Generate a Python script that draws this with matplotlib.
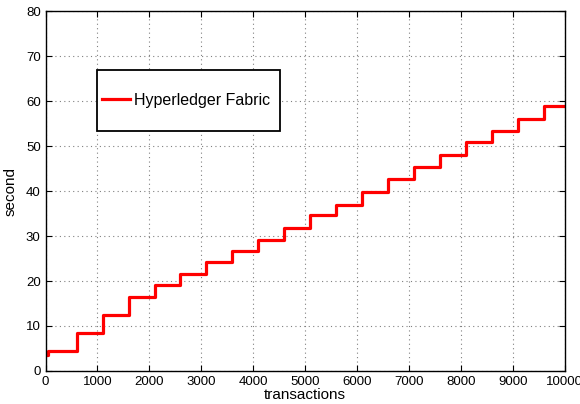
import matplotlib
matplotlib.use("Agg")
import matplotlib.pyplot as plt
from matplotlib.patches import Rectangle

plt.rcParams['font.family'] = ['Liberation Sans', 'DejaVu Sans']

# step boundaries (transactions) and the level held from each boundary
step_x = [0, 50, 600, 1100, 1600, 2100, 2600, 3100, 3600, 4100, 4600,
          5100, 5600, 6100, 6600, 7100, 7600, 8100, 8600, 9100, 9600, 10000]
levels = [3.6, 4.4, 8.4, 12.5, 16.4, 19.1, 21.5, 24.2, 26.7, 29.2, 31.8,
          34.6, 37.0, 39.8, 42.6, 45.3, 48.1, 50.9, 53.4, 56.0, 58.8, 58.8]

x_ticks = list(range(0, 10001, 1000))
y_ticks = list(range(0, 81, 10))

fig = plt.figure(figsize=(5.8, 4.04), dpi=100)
ax = fig.add_axes([0.0785, 0.0817, 0.895, 0.891])

ax.plot(step_x, levels, drawstyle="steps-post", color="red", linewidth=2.3,
        label="Hyperledger Fabric")

ax.set_xlim(0, 10000)
ax.set_ylim(0, 80)
ax.set_xticks(x_ticks)
ax.set_yticks(y_ticks)
ax.tick_params(direction="in", top=True, right=True, labelsize=9.5, length=4)
ax.grid(True, linestyle=(0, (1, 3)), color="gray", linewidth=0.8)
for s in ax.spines.values():
    s.set_linewidth(1.0)

ax.set_xlabel("transactions", fontsize=11, labelpad=0)
ax.set_ylabel("second", fontsize=11, labelpad=6)

# legend frame drawn separately (tall box, tight horizontal padding)
box = Rectangle((0.0992, 0.667), 0.3526, 0.169, transform=ax.transAxes,
                facecolor="white", edgecolor="black", linewidth=1.3, zorder=4)
ax.add_patch(box)
leg = ax.legend(loc="center left", bbox_to_anchor=(0.1089, 0.7515),
                frameon=False, fontsize=11.5, handlelength=1.75,
                handletextpad=0.25, borderpad=0, borderaxespad=0)
leg.set_zorder(5)

plt.savefig("out.png", dpi=100)
